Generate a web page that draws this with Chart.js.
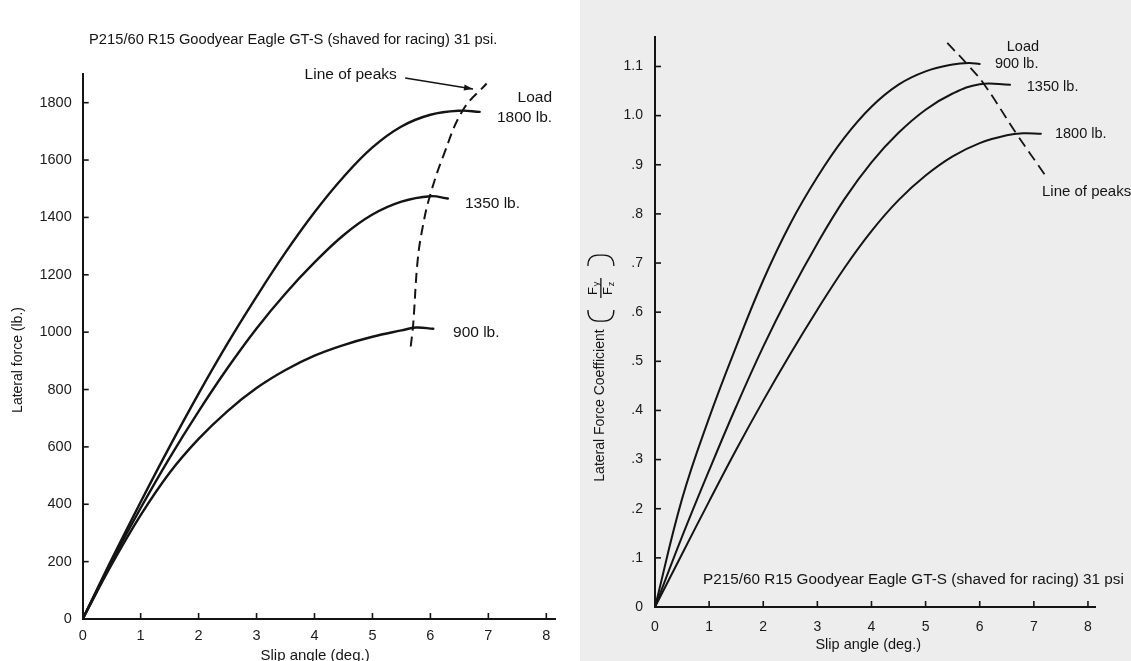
<!DOCTYPE html>
<html><head><meta charset="utf-8">
<script src="https://cdn.jsdelivr.net/npm/chart.js@4.4.0/dist/chart.umd.min.js"></script>
<style>
html,body{margin:0;padding:0;background:#fff;overflow:hidden;}
#wrap{position:relative;width:1131px;height:661px;}
#c1{position:absolute;left:0;top:0;}
#c2{position:absolute;left:580px;top:0;}
</style></head><body>
<div id="wrap"><canvas id="c1" width="580" height="661"></canvas><canvas id="c2" width="551" height="661"></canvas></div>
<script>
// ---------- DATA ----------
const tireTitle = 'P215/60 R15 Goodyear Eagle GT-S (shaved for racing) 31 psi';
const loads = ['900 lb.', '1350 lb.', '1800 lb.'];
const xTitle = 'Slip angle (deg.)';
const yTitleLeft = 'Lateral force (lb.)';
const yTitleRight = 'Lateral Force Coefficient';
const peakLabel = 'Line of peaks';
const loadLabel = 'Load';

// Left chart: lateral force (lb.) vs slip angle (deg.)
const slipL900  = [0, 0.5, 1, 1.5, 2, 2.5, 3, 3.5, 4, 4.5, 5, 5.5, 5.75, 6.05];
const forceL900 = [0, 190, 362, 510, 628, 725, 805, 868, 918, 955, 984, 1006, 1016, 1012];
const slipL1350  = [0, 0.5, 1, 1.5, 2, 2.5, 3, 3.5, 4, 4.5, 5, 5.5, 6, 6.3];
const forceL1350 = [0, 200, 387, 562, 724, 875, 1013, 1135, 1243, 1338, 1410, 1455, 1474, 1466];
const slipL1800  = [0, 0.5, 1, 1.5, 2, 2.5, 3, 3.5, 4, 4.5, 5, 5.5, 6, 6.5, 6.85];
const forceL1800 = [0, 208, 408, 601, 786, 961, 1124, 1278, 1418, 1541, 1644, 1717, 1758, 1772, 1768];
const slipPeakL  = [5.66, 5.70, 5.78, 5.87, 5.99, 6.22, 6.56, 6.97];
const forcePeakL = [950, 1020, 1250, 1370, 1474, 1613, 1774, 1867];

// Right chart: lateral force coefficient (Fy/Fz) vs slip angle (deg.)
const slipR900 = [0, 0.5, 1, 1.5, 2, 2.5, 3, 3.5, 4, 4.5, 5, 5.5, 5.8, 6.0];
const coefR900 = [0, .22, .385, .53, .665, .78, .875, .955, 1.018, 1.063, 1.09, 1.104, 1.107, 1.105];
const slipR1350 = [0, 0.5, 1, 1.5, 2, 2.5, 3, 3.5, 4, 4.5, 5, 5.5, 6, 6.56];
const coefR1350 = [0, .143, .278, .408, .53, .64, .74, .83, .905, .965, 1.012, 1.045, 1.064, 1.063];
const slipR1800 = [0, 0.5, 1, 1.5, 2, 2.5, 3, 3.5, 4, 4.5, 5, 5.5, 6, 6.5, 6.8, 7.13];
const coefR1800 = [0, .108, .215, .32, .42, .515, .605, .69, .765, .828, .878, .917, .944, .960, .964, .963];
const slipPeakR = [5.40, 5.75, 6.08, 6.68, 7.22];
const coefPeakR = [1.148, 1.107, 1.064, .963, .877];

// ---------- RENDER ----------
const FONT = '"Liberation Sans", Arial, Helvetica, sans-serif';
Chart.defaults.font.family = FONT;
Chart.defaults.color = '#1a1a1a';
const INK = '#141414';

function pts(xs, ys) { return xs.map((x, i) => ({x: x, y: ys[i]})); }
function curve(xs, ys, w) {
  return {data: pts(xs, ys), showLine: true, borderColor: INK, borderWidth: w,
          pointRadius: 0, fill: false, tension: 0.4, borderCapStyle: 'round', borderJoinStyle: 'round'};
}
function dashed(xs, ys, w, dash) {
  return {data: pts(xs, ys), showLine: true, borderColor: INK, borderWidth: w,
          pointRadius: 0, fill: false, tension: 0.4, borderDash: dash};
}

const inwardTicks = {
  id: 'inwardTicks',
  afterDatasetsDraw(chart) {
    const o = chart.options.plugins.inwardTicks;
    const ctx = chart.ctx, X = chart.scales.x, Y = chart.scales.y;
    ctx.save(); ctx.strokeStyle = INK; ctx.lineWidth = o.width;
    Y.ticks.forEach(t => { if (t.value === 0) return; const p = Y.getPixelForValue(t.value);
      ctx.beginPath(); ctx.moveTo(X.left, p); ctx.lineTo(X.left + o.len, p); ctx.stroke(); });
    X.ticks.forEach(t => { if (t.value === 0) return; const p = X.getPixelForValue(t.value);
      ctx.beginPath(); ctx.moveTo(p, Y.bottom); ctx.lineTo(p, Y.bottom - o.len); ctx.stroke(); });
    ctx.restore();
  }
};

function txt(ctx, s, x, y, align, size) {
  ctx.font = size + 'px ' + FONT; ctx.textAlign = align; ctx.textBaseline = 'middle'; ctx.fillText(s, x, y);
}

const leftText = {
  id: 'leftText',
  afterDraw(chart) {
    const ctx = chart.ctx, X = chart.scales.x, Y = chart.scales.y;
    const px = v => X.getPixelForValue(v), py = v => Y.getPixelForValue(v);
    ctx.save(); ctx.fillStyle = INK;
    txt(ctx, tireTitle + '.', px(0.11), py(2018), 'left', 14.7);
    txt(ctx, peakLabel, px(5.42), py(1896), 'right', 15.5);
    txt(ctx, loadLabel, px(8.10), py(1816), 'right', 15.5);
    txt(ctx, loads[2], px(8.10), py(1746), 'right', 15.5);
    txt(ctx, loads[1], px(6.595), py(1447), 'left', 15.5);
    txt(ctx, loads[0], px(6.39), py(997), 'left', 15.5);
    txt(ctx, xTitle, px(4.01), py(-129), 'center', 15);
    // y title rotated
    ctx.save(); ctx.translate(px(-1.117), py(903)); ctx.rotate(-Math.PI / 2);
    txt(ctx, yTitleLeft, 0, 0, 'center', 14); ctx.restore();
    // arrow
    const x0 = px(5.565), y0 = py(1886), x1 = px(6.735), y1 = py(1848);
    ctx.strokeStyle = INK; ctx.lineWidth = 1.5;
    ctx.beginPath(); ctx.moveTo(x0, y0); ctx.lineTo(x1, y1); ctx.stroke();
    const a = Math.atan2(y1 - y0, x1 - x0), L = 9, W = 3;
    ctx.beginPath(); ctx.moveTo(x1, y1);
    ctx.lineTo(x1 - L * Math.cos(a) + W * Math.sin(a), y1 - L * Math.sin(a) - W * Math.cos(a));
    ctx.lineTo(x1 - L * Math.cos(a) - W * Math.sin(a), y1 - L * Math.sin(a) + W * Math.cos(a));
    ctx.closePath(); ctx.fill();
    ctx.restore();
  }
};

const rightText = {
  id: 'rightText',
  beforeDraw(chart) {
    const ctx = chart.ctx;
    ctx.save(); ctx.fillStyle = '#ededed'; ctx.fillRect(0, 0, chart.width, chart.height); ctx.restore();
  },
  afterDraw(chart) {
    const ctx = chart.ctx, X = chart.scales.x, Y = chart.scales.y;
    const px = v => X.getPixelForValue(v), py = v => Y.getPixelForValue(v);
    ctx.save(); ctx.fillStyle = INK;
    txt(ctx, loadLabel, px(6.50), py(1.140), 'left', 14.5);
    txt(ctx, loads[0], px(6.28), py(1.106), 'left', 14.5);
    txt(ctx, loads[1], px(6.87), py(1.058), 'left', 14.5);
    txt(ctx, loads[2], px(7.39), py(0.963), 'left', 14.5);
    txt(ctx, peakLabel, px(7.15), py(0.845), 'left', 15);
    txt(ctx, tireTitle, px(0.887), py(0.055), 'left', 15.3);
    txt(ctx, xTitle, px(3.94), py(-0.077), 'center', 14.5);
    // rotated y title with (Fy/Fz)
    ctx.save(); ctx.translate(px(-1.02), py(0.41)); ctx.rotate(-Math.PI / 2);
    txt(ctx, yTitleRight, 0, 0, 'center', 14); ctx.restore();
    ctx.save(); ctx.translate(px(-1.0), py(0.649)); ctx.rotate(-Math.PI / 2);
    ctx.strokeStyle = INK; ctx.lineWidth = 1.3;
    ctx.beginPath(); ctx.moveTo(-10, 0); ctx.lineTo(10, 0); ctx.stroke();
    txt(ctx, 'F', -3, -7, 'center', 13); txt(ctx, 'y', 4, -4, 'center', 9);
    txt(ctx, 'F', -3, 8, 'center', 13); txt(ctx, 'z', 4, 11, 'center', 9);
    // brackets
    ctx.beginPath(); ctx.moveTo(-22, -13); ctx.quadraticCurveTo(-33, -13, -33, -3); ctx.lineTo(-33, 3); ctx.quadraticCurveTo(-33, 13, -22, 13); ctx.stroke();
    ctx.beginPath(); ctx.moveTo(22, -13); ctx.quadraticCurveTo(33, -13, 33, -3); ctx.lineTo(33, 3); ctx.quadraticCurveTo(33, 13, 22, 13); ctx.stroke();
    ctx.restore();
    ctx.restore();
  }
};

function axisCommon(min, max, step, pad, size, cb) {
  return {type: 'linear', min: min, max: max,
    ticks: {stepSize: step, includeBounds: false, autoSkip: false, maxRotation: 0, minRotation: 0,
            padding: pad, color: '#1a1a1a', font: {size: size}, callback: cb},
    grid: {display: false, drawTicks: false},
    border: {display: true, color: INK, width: 2}};
}

new Chart(document.getElementById('c1'), {
  type: 'scatter',
  data: {datasets: [
    curve(slipL900, forceL900, 2.4),
    curve(slipL1350, forceL1350, 2.4),
    curve(slipL1800, forceL1800, 2.4),
    dashed(slipPeakL, forcePeakL, 2, [10, 6])
  ]},
  options: {
    responsive: false, animation: false, devicePixelRatio: 1,
    layout: {padding: {top: 74, right: 25, bottom: 0, left: 0}},
    plugins: {legend: {display: false}, tooltip: {enabled: false}, inwardTicks: {len: 6, width: 1.6}},
    scales: {
      x: Object.assign(axisCommon(0, 8.15, 1, 8, 14.5, v => String(v)), {afterFit: s => { s.height = 42; }}),
      y: Object.assign(axisCommon(0, 1900, 200, 11, 14.5, v => String(v)), {afterFit: s => { s.width = 82.7; }})
    }
  },
  plugins: [inwardTicks, leftText]
});

new Chart(document.getElementById('c2'), {
  type: 'scatter',
  data: {datasets: [
    curve(slipR900, coefR900, 2),
    curve(slipR1350, coefR1350, 2),
    curve(slipR1800, coefR1800, 2),
    dashed(slipPeakR, coefPeakR, 1.8, [11, 6])
  ]},
  options: {
    responsive: false, animation: false, devicePixelRatio: 1,
    layout: {padding: {top: 37, right: 36, bottom: 0, left: 0}},
    plugins: {legend: {display: false}, tooltip: {enabled: false}, inwardTicks: {len: 6, width: 1.6}},
    scales: {
      x: Object.assign(axisCommon(0, 8.13, 1, 12, 14, v => String(v)), {afterFit: s => { s.height = 54; }}),
      y: Object.assign(axisCommon(0, 1.16, 0.1, 12, 14, v => {
            const r = Math.round(v * 10) / 10;
            if (r === 0) return '0';
            if (r >= 1) return r.toFixed(1);
            return '.' + Math.round(r * 10);
          }), {afterFit: s => { s.width = 75; }})
    }
  },
  plugins: [inwardTicks, rightText]
});
</script>
</body></html>
